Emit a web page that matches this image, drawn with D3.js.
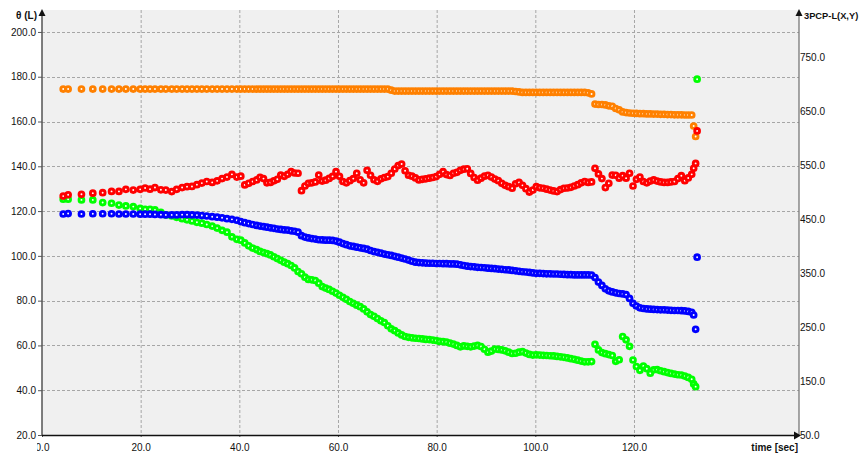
<!DOCTYPE html>
<html>
<head>
<meta charset="utf-8">
<script src="https://cdn.jsdelivr.net/npm/d3@7"></script>
<style>
  body { margin: 0; background: #fff; }
  text { font-family: "Liberation Sans", Arial, sans-serif; font-size: 10px; fill: #111; }
</style>
</head>
<body>
<div class="container"></div>
<script>
const time = [
  4.3, 5.3, 8.0, 10.3, 12.3, 14.1, 15.6, 17.0, 18.5, 19.9,
  20.9, 21.9, 22.9, 24.1, 25.1, 26.3, 27.3, 28.4, 29.4, 30.4,
  31.4, 32.4, 33.4, 34.5, 35.5, 36.5, 37.5, 38.5, 39.5, 40.3,
  41.1, 41.9, 42.7, 43.5, 44.2, 44.9, 45.6, 46.3, 47.0, 47.7,
  48.4, 49.1, 49.8, 50.5, 51.2, 51.9, 52.6, 53.3, 54.0, 54.7,
  55.4, 56.1, 56.8, 57.5, 58.2, 58.9, 59.6, 60.3, 61.0, 61.7,
  62.4, 63.1, 63.8, 64.5, 65.2, 65.9, 66.6, 67.3, 68.0, 68.7,
  69.4, 70.1, 70.8, 71.5, 72.2, 72.9, 73.6, 74.3, 75.0, 75.7,
  76.4, 77.1, 77.8, 78.5, 79.2, 79.9, 80.6, 81.3, 82.0, 82.7,
  83.4, 84.1, 84.8, 85.5, 86.2, 86.9, 87.6, 88.3, 89.0, 89.7,
  90.4, 91.1, 91.8, 92.5, 93.2, 93.9, 94.6, 95.3, 96.0, 96.7,
  97.4, 98.1, 98.8, 99.5, 100.2, 100.9, 101.6, 102.3, 103.0, 103.7,
  104.4, 105.1, 105.8, 106.5, 107.2, 107.9, 108.6, 109.3, 110.0, 110.7,
  111.4, 112.1, 112.8, 113.5, 114.2, 114.9, 115.6, 116.3, 117.0, 117.7,
  118.4, 119.1, 119.8, 120.5, 121.2, 121.9, 122.6, 123.3, 124.0, 124.7,
  125.4, 126.1, 126.8, 127.5, 128.2, 128.9, 129.6, 130.3, 131.0, 131.7,
  132.1, 132.5, 132.8
];

const orange = [
  174.5, 174.5, 174.5, 174.5, 174.5, 174.5, 174.5, 174.5, 174.5, 174.5,
  174.5, 174.5, 174.5, 174.5, 174.5, 174.5, 174.5, 174.5, 174.5, 174.5,
  174.5, 174.5, 174.5, 174.5, 174.5, 174.5, 174.5, 174.5, 174.5, 174.5,
  174.5, 174.5, 174.5, 174.5, 174.5, 174.5, 174.5, 174.5, 174.5, 174.5,
  174.5, 174.5, 174.5, 174.5, 174.5, 174.5, 174.5, 174.5, 174.5, 174.5,
  174.5, 174.5, 174.5, 174.5, 174.5, 174.5, 174.5, 174.5, 174.5, 174.5,
  174.5, 174.5, 174.5, 174.5, 174.5, 174.5, 174.5, 174.5, 174.5, 174.5,
  174.5, 174.5, 174.0, 173.6, 173.6, 173.6, 173.6, 173.6, 173.6, 173.6,
  173.6, 173.6, 173.6, 173.6, 173.6, 173.6, 173.6, 173.6, 173.6, 173.6,
  173.6, 173.6, 173.6, 173.6, 173.6, 173.6, 173.6, 173.6, 173.6, 173.6,
  173.6, 173.6, 173.6, 173.6, 173.6, 173.6, 173.6, 173.6, 173.4, 173.2,
  173.0, 173.0, 173.0, 173.0, 173.0, 173.0, 173.0, 173.0, 173.0, 173.0,
  173.0, 173.0, 173.0, 173.0, 173.0, 173.0, 173.0, 173.0, 173.0, 172.8,
  172.3, 167.8, 167.6, 167.6, 167.4, 167.0, 166.8, 165.8, 165.2, 164.3,
  164.0, 163.8, 163.7, 163.6, 163.5, 163.5, 163.4, 163.4, 163.3, 163.3,
  163.2, 163.2, 163.1, 163.1, 163.0, 163.0, 163.0, 162.9, 162.9, 162.9,
  158.0, 153.3, null
];

const red = [
  126.7, 127.3, 127.5, 128.0, 128.2, 128.8, 128.8, 129.7, 129.4, 129.7,
  130.3, 129.8, 130.5, 129.5, 129.4, 128.7, 129.7, 130.5, 130.9, 131.0,
  131.8, 132.5, 133.2, 132.8, 133.5, 134.5, 135.2, 136.4, 135.2, 135.6,
  131.7, 132.4, 133.2, 133.9, 135.1, 134.5, 132.6, 132.8, 133.5, 134.2,
  136.1, 135.5, 136.4, 137.6, 137.0, 136.9, 129.1, 131.2, 132.4, 132.6,
  133.0, 136.1, 133.4, 133.8, 134.6, 135.5, 137.6, 135.5, 133.2, 132.6,
  133.6, 134.5, 136.9, 134.0, 132.6, 138.2, 136.0, 134.0, 133.3, 134.4,
  135.0, 135.4, 136.9, 138.8, 140.3, 141.0, 138.0, 136.0, 135.6, 134.8,
  133.9, 134.2, 134.4, 134.7, 135.0, 135.4, 136.4, 137.6, 136.3, 135.9,
  136.9, 137.3, 138.2, 138.7, 138.9, 136.8, 135.0, 133.8, 134.7, 135.6,
  136.0, 135.2, 134.3, 133.6, 132.4, 131.5, 130.9, 130.2, 132.2, 132.8,
  131.5, 130.0, 128.5, 129.4, 130.9, 130.4, 130.2, 129.8, 129.4, 129.0,
  128.7, 129.6, 130.2, 130.3, 130.6, 131.2, 131.8, 132.6, 133.2, 132.8,
  133.0, 139.1, 136.6, 134.5, 130.5, 132.4, 136.1, 136.0, 134.7, 135.8,
  134.7, 136.9, 131.2, 134.2, 135.2, 133.2, 132.6, 133.4, 133.9, 133.4,
  133.0, 132.8, 132.8, 133.0, 133.2, 134.5, 135.8, 133.6, 134.8, 136.4,
  139.1, 141.3, 155.8
];

const blue = [
  118.7, 118.9, 118.7, 118.8, 118.8, 118.8, 118.7, 118.7, 118.7, 118.6,
  118.6, 118.6, 118.5, 118.4, 118.3, 118.3, 118.3, 118.4, 118.4, 118.3,
  118.2, 118.0, 117.8, 117.5, 117.3, 117.0, 116.6, 116.3, 115.9, 115.3,
  114.8, 114.4, 114.0, 113.6, 113.3, 113.1, 112.8, 112.5, 112.3, 112.0,
  111.8, 111.6, 111.5, 111.2, 111.0, 110.6, 109.0, 108.4, 108.0, 107.7,
  107.5, 107.2, 107.1, 107.0, 107.0, 106.9, 106.6, 106.1, 105.5, 105.0,
  104.5, 104.2, 103.9, 103.6, 103.3, 103.0, 102.4, 101.9, 101.6, 101.2,
  100.8, 100.5, 100.2, 99.8, 99.4, 99.0, 98.6, 98.1, 97.6, 97.2,
  97.0, 96.9, 96.8, 96.7, 96.7, 96.6, 96.6, 96.5, 96.5, 96.4,
  96.4, 96.3, 96.0, 95.7, 95.4, 95.2, 95.1, 94.9, 94.8, 94.7,
  94.5, 94.4, 94.3, 94.1, 94.0, 93.8, 93.7, 93.5, 93.3, 93.1,
  92.9, 92.8, 92.6, 92.4, 92.2, 92.2, 92.1, 92.0, 92.0, 91.9,
  91.9, 91.8, 91.7, 91.6, 91.6, 91.5, 91.5, 91.5, 91.5, 91.5,
  91.4, 90.3, 88.3, 86.8, 85.3, 84.4, 83.9, 83.5, 83.2, 83.0,
  82.7, 81.0, 78.8, 77.6, 76.8, 76.5, 76.3, 76.2, 76.1, 76.0,
  75.9, 75.9, 75.8, 75.7, 75.6, 75.6, 75.5, 75.4, 75.2, 74.8,
  73.6, 67.2, 99.4
];

const green = [
  125.3, 125.3, 125.0, 125.0, 123.8, 123.5, 122.7, 122.3, 122.0, 121.2,
  120.8, 120.8, 120.5, 119.4, 118.3, 117.8, 117.2, 116.6, 116.1, 115.6,
  115.0, 114.6, 114.0, 113.3, 112.4, 111.4, 110.6, 108.5, 107.4, 107.0,
  105.8, 104.5, 103.5, 102.8, 102.0, 101.5, 101.0, 100.4, 99.6, 98.8,
  98.0, 97.2, 96.5, 95.7, 94.6, 93.0, 92.0, 90.5, 89.5, 89.3,
  89.0, 87.8, 86.3, 85.6, 85.0, 84.2, 83.4, 82.4, 81.5, 80.6,
  79.6, 78.8, 78.0, 77.3, 76.3, 75.0, 73.8, 73.0, 72.0, 71.0,
  70.2, 68.8, 67.4, 66.6, 65.6, 64.7, 64.0, 63.6, 63.4, 63.2,
  63.1, 62.9, 62.7, 62.6, 62.4, 62.2, 61.8, 61.7, 61.5, 61.0,
  60.6, 60.0, 59.4, 59.8, 59.6, 59.4, 59.7, 60.0, 59.5, 58.3,
  57.0, 57.5, 58.4, 58.2, 58.0, 57.6, 57.0, 56.4, 56.5, 57.0,
  57.2, 56.6, 56.0, 55.7, 55.8, 55.7, 55.6, 55.5, 55.4, 55.3,
  55.1, 54.9, 54.7, 54.4, 54.1, 53.8, 53.4, 53.0, 52.7, 52.7,
  52.8, 60.5, 58.0, 56.8, 56.3, 55.9, 55.5, 52.9, 53.6, 64.0,
  62.5, 59.6, 53.5, 50.6, 48.9, 50.8, 49.6, 47.6, 49.1, 49.2,
  48.7, 48.3, 47.9, 47.5, 47.2, 46.9, 46.8, 46.3, 45.7, 44.9,
  42.8, 41.6, 178.9
];

const xTicks = [0, 20, 40, 60, 80, 100, 120];
const yTicks = [20, 40, 60, 80, 100, 120, 140, 160, 180, 200];
const yRightTicks = [50, 150, 250, 350, 450, 550, 650, 750];

let svg = d3.select(".container")
  .append("svg")
  .attr("width", 861)
  .attr("height", 453);

let x = d3.scaleLinear().domain([0, 153.45]).range([42, 799]);
let y = d3.scaleLinear().domain([20, 209.8]).range([435, 10]);
let yRight = d3.scaleLinear().domain([50, 838.1]).range([435, 10]);

svg.append("rect")
  .attr("x", 42)
  .attr("y", 10)
  .attr("width", 757)
  .attr("height", 425)
  .attr("fill", "#f0f0f0");

let grid = svg.append("g")
  .attr("class", "grid")
  .attr("stroke", "#a6a6a6")
  .attr("stroke-width", 1)
  .attr("stroke-dasharray", "3,2");
xTicks.filter(d => d > 0).forEach(d => {
  grid.append("line")
    .attr("x1", x(d) + 0.5)
    .attr("x2", x(d) + 0.5)
    .attr("y1", 10)
    .attr("y2", 435);
});
yTicks.filter(d => d > 20).forEach(d => {
  grid.append("line")
    .attr("x1", 42)
    .attr("x2", 799)
    .attr("y1", Math.round(y(d)) + 0.5)
    .attr("y2", Math.round(y(d)) + 0.5);
});

let fmt = d3.format(".1f");

let leftAxis = svg.append("g")
  .attr("transform", "translate(42,0)")
  .call(d3.axisLeft(y).tickValues(yTicks).tickFormat(fmt).tickSize(4).tickPadding(2));

let rightAxis = svg.append("g")
  .attr("transform", "translate(799,0)")
  .call(d3.axisRight(yRight).tickValues(yRightTicks).tickFormat(fmt).tickSize(0).tickPadding(1));

// the first x label is cut at the left edge, as in the original
svg.append("clipPath")
  .attr("id", "xclip")
  .append("rect")
  .attr("x", 37)
  .attr("y", -5)
  .attr("width", 800)
  .attr("height", 25);

let bottomAxis = svg.append("g")
  .attr("transform", "translate(0,435)")
  .attr("clip-path", "url(#xclip)")
  .call(d3.axisBottom(x).tickValues(xTicks).tickFormat(fmt).tickSize(2).tickPadding(7));

[leftAxis, rightAxis, bottomAxis].forEach(a => {
  a.select(".domain").remove();
  a.selectAll("text").attr("font-family", null).attr("font-size", null);
  a.selectAll(".tick line").attr("stroke", "#555");
});

// axis lines and arrows
svg.append("line")
  .attr("x1", 42).attr("x2", 42)
  .attr("y1", 435).attr("y2", 13)
  .attr("stroke", "#555")
  .attr("stroke-width", 1.5);
svg.append("line")
  .attr("x1", 799).attr("x2", 799)
  .attr("y1", 435).attr("y2", 13)
  .attr("stroke", "#777")
  .attr("stroke-width", 1.3);
svg.append("line")
  .attr("x1", 42).attr("x2", 796)
  .attr("y1", 435.5).attr("y2", 435.5)
  .attr("stroke", "#111")
  .attr("stroke-width", 1.3);
svg.append("path")
  .attr("d", "M 42 9 L 45.5 16 L 38.5 16 Z")
  .attr("fill", "#111");
svg.append("path")
  .attr("d", "M 799 9 L 802.5 16 L 795.5 16 Z")
  .attr("fill", "#111");
svg.append("path")
  .attr("d", "M 801 435.5 L 794 431.5 L 794 439.5 Z")
  .attr("fill", "#111");

svg.append("text")
  .attr("x", 37)
  .attr("y", 19)
  .attr("text-anchor", "end")
  .attr("font-weight", "bold")
  .text("θ (L)");
svg.append("text")
  .attr("x", 804)
  .attr("y", 19)
  .attr("font-weight", "bold")
  .style("font-size", "9.3px")
  .text("3PCP-L(X,Y)");
svg.append("text")
  .attr("x", 798)
  .attr("y", 451)
  .attr("text-anchor", "end")
  .attr("font-weight", "bold")
  .text("time [sec]");

let series = [
  [orange, "#ff8000"],
  [green, "#00ff00"],
  [blue, "#0000ff"],
  [red, "#ff0000"]
];

series.forEach(s => {
  let values = s[0];
  let idx = d3.range(time.length).filter(i => values[i] != null);
  svg.append("g")
    .selectAll("circle")
    .data(idx)
    .enter()
    .append("circle")
    .attr("cx", i => x(time[i]))
    .attr("cy", i => y(values[i]))
    .attr("r", 2.4)
    .attr("fill", "#fff")
    .attr("stroke", s[1])
    .attr("stroke-width", 2.9);
});
</script>
</body>
</html>
